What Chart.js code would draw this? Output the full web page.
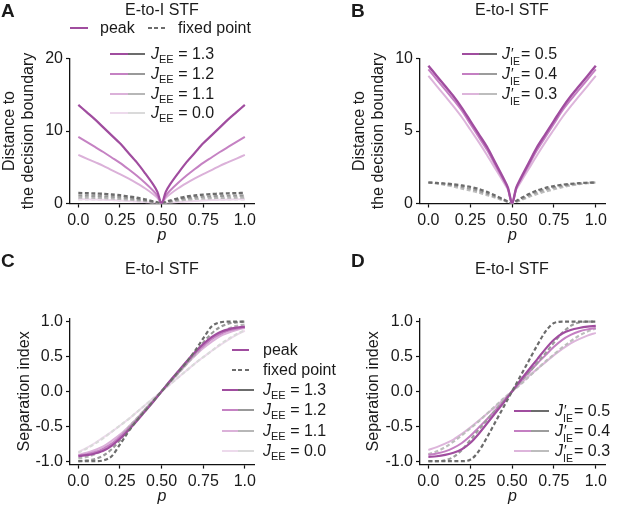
<!DOCTYPE html>
<html><head><meta charset="utf-8">
<script src="https://cdn.jsdelivr.net/npm/chart.js@4.4.1/dist/chart.umd.min.js"></script>
<style>
html,body{margin:0;padding:0;background:#fff;}
#wrap{position:relative;width:617px;height:506px;overflow:hidden;font-family:"Liberation Sans",Arial,sans-serif;color:#1a1a1a;}
canvas{position:absolute;}
.t{position:absolute;font-size:16px;line-height:16px;white-space:nowrap;transform:translateY(-50%);z-index:2;}
.c{transform:translate(-50%,-50%);}
.L{font-weight:bold;font-size:19px;line-height:19px;}
.sw{position:absolute;height:2px;z-index:2;}
.J{font-style:italic;}
.sb{font-size:11px;line-height:0;vertical-align:-4px;}
.ps{display:inline-block;position:relative;width:11px;height:16px;vertical-align:top;}
.ps .pr{position:absolute;left:1px;top:0;font-size:14px;line-height:14px;}
.ps .s2{position:absolute;left:0;top:10px;font-size:10.5px;line-height:11px;}
</style></head>
<body><div id="wrap">
<canvas id="cA" width="310" height="250" style="left:0;top:0"></canvas>
<canvas id="cB" width="307" height="250" style="left:310px;top:0"></canvas>
<canvas id="cC" width="310" height="258" style="left:0;top:250px"></canvas>
<canvas id="cD" width="307" height="258" style="left:310px;top:250px"></canvas>

<div class="t L" style="left:1px;top:10px">A</div>
<div class="t L" style="left:351px;top:10px">B</div>
<div class="t L" style="left:1px;top:260px">C</div>
<div class="t L" style="left:351px;top:260px">D</div>
<div class="t c" style="left:162px;top:10px">E-to-I STF</div>
<div class="t c" style="left:512px;top:10px">E-to-I STF</div>
<div class="t c" style="left:162px;top:269px">E-to-I STF</div>
<div class="t c" style="left:512px;top:269px">E-to-I STF</div>

<div id="legends"></div>
</div>
<script>
// ---------- data ----------
// p grid for the V-shaped distance plots (A, B), with extra samples near the vertex
const pValuesV = [0,0.05,0.1,0.15,0.2,0.25,0.3,0.35,0.4,0.45,0.475,0.5,0.525,0.55,0.6,0.65,0.7,0.75,0.8,0.85,0.9,0.95,1];
// p grid for the separation-index plots (C, D)
const pValuesS = [0,0.05,0.1,0.15,0.2,0.25,0.3,0.35,0.4,0.45,0.5,0.55,0.6,0.65,0.7,0.75,0.8,0.85,0.9,0.95,1];
const xTickValues = [0,0.25,0.5,0.75,1];
const xTickLabels = ['0.0','0.25','0.50','0.75','1.0'];
const aTickValues = [0,10,20];
const aTickLabels = ['0','10','20'];
const bTickValues = [0,5,10];
const bTickLabels = ['0','5','10'];
const sTickValues = [-1,-0.5,0,0.5,1];
const sTickLabels = ['-1.0','-0.5','0.0','0.5','1.0'];

const legendJEE = ['1.3','1.2','1.1','0.0'];
const legendJIE = ['0.5','0.4','0.3'];

// Panel A: distance to decision boundary, J_EE series (on pValuesV)
const aPeak13 = [13.6,12.6,11.6,10.5,9.4,8.3,7.0,5.7,4.2,2.6,1.6,0,1.6,2.6,4.2,5.7,7.0,8.3,9.4,10.5,11.6,12.6,13.6];
const aPeak12 = [9.2,8.5,7.8,7.1,6.35,5.6,4.75,3.85,2.85,1.75,1.07,0,1.07,1.75,2.85,3.85,4.75,5.6,6.35,7.1,7.8,8.5,9.2];
const aPeak11 = [6.7,6.2,5.7,5.2,4.6,4.05,3.45,2.8,2.1,1.28,0.78,0,0.78,1.28,2.1,2.8,3.45,4.05,4.6,5.2,5.7,6.2,6.7];
const aPeak00 = [0.6,0.58,0.55,0.51,0.47,0.42,0.36,0.29,0.2,0.1,0.05,0,0.05,0.1,0.2,0.29,0.36,0.42,0.47,0.51,0.55,0.58,0.6];
const aFix13 = [1.45,1.42,1.38,1.33,1.25,1.13,0.98,0.8,0.57,0.3,0.15,0,0.22,0.4,0.72,0.95,1.1,1.22,1.3,1.36,1.4,1.43,1.45];
const aFix12 = [1.1,1.08,1.05,1.0,0.94,0.85,0.74,0.6,0.43,0.23,0.12,0,0.16,0.3,0.54,0.72,0.84,0.93,0.99,1.04,1.07,1.09,1.1];
const aFix11 = [0.82,0.8,0.78,0.74,0.69,0.62,0.54,0.44,0.32,0.17,0.09,0,0.12,0.22,0.4,0.53,0.62,0.69,0.74,0.77,0.8,0.81,0.82];
const aFix00 = [0.58,0.57,0.55,0.52,0.48,0.44,0.38,0.31,0.22,0.12,0.06,0,0.08,0.15,0.28,0.37,0.44,0.49,0.52,0.55,0.56,0.57,0.58];

// Panel B: J'_IE series (on pValuesV)
const bPeak05 = [9.5,8.8,8.1,7.4,6.6,5.7,4.8,3.9,2.8,1.7,1.1,0,1.1,1.7,2.8,3.9,4.8,5.7,6.6,7.4,8.1,8.8,9.5];
const bPeak04 = [9.25,8.55,7.85,7.15,6.4,5.5,4.6,3.7,2.65,1.6,1.05,0,1.05,1.6,2.65,3.7,4.6,5.5,6.4,7.15,7.85,8.55,9.25];
const bPeak03 = [8.8,8.1,7.4,6.7,5.95,5.1,4.25,3.35,2.4,1.45,0.95,0,0.95,1.45,2.4,3.35,4.25,5.1,5.95,6.7,7.4,8.1,8.8];
const bFix05 = [1.45,1.42,1.38,1.33,1.25,1.15,1.0,0.8,0.55,0.28,0.14,0,0.18,0.35,0.65,0.9,1.08,1.2,1.3,1.36,1.4,1.43,1.45];
const bFix04 = [1.45,1.4,1.33,1.25,1.15,1.02,0.87,0.68,0.47,0.24,0.12,0,0.14,0.28,0.55,0.78,0.96,1.1,1.22,1.31,1.38,1.42,1.45];
const bFix03 = [1.45,1.38,1.28,1.16,1.03,0.9,0.75,0.58,0.4,0.2,0.1,0,0.11,0.22,0.45,0.65,0.83,0.98,1.12,1.24,1.33,1.4,1.45];

// Panel C: separation index, J_EE series (on pValuesS)
const cPeak13 = [-0.93,-0.915,-0.89,-0.85,-0.78,-0.68,-0.56,-0.43,-0.29,-0.15,0,0.15,0.29,0.43,0.56,0.68,0.78,0.85,0.89,0.915,0.93];
const cPeak12 = [-0.92,-0.9,-0.87,-0.82,-0.75,-0.65,-0.54,-0.41,-0.28,-0.14,0,0.14,0.28,0.41,0.54,0.65,0.75,0.82,0.87,0.9,0.92];
const cPeak11 = [-0.91,-0.88,-0.84,-0.79,-0.71,-0.62,-0.51,-0.39,-0.26,-0.13,0,0.13,0.26,0.39,0.51,0.62,0.71,0.79,0.84,0.88,0.91];
const cPeak00 = [-0.87,-0.81,-0.74,-0.66,-0.58,-0.49,-0.4,-0.3,-0.2,-0.1,0,0.1,0.2,0.3,0.4,0.49,0.58,0.66,0.74,0.81,0.87];
const cFix13 = [-1,-1,-1,-0.99,-0.93,-0.76,-0.58,-0.42,-0.28,-0.14,0,0.14,0.28,0.42,0.58,0.76,0.93,0.99,1,1,1];
const cFix12 = [-1,-0.99,-0.97,-0.92,-0.83,-0.7,-0.55,-0.41,-0.27,-0.14,0,0.14,0.27,0.41,0.55,0.7,0.83,0.92,0.97,0.99,1];
const cFix11 = [-0.96,-0.94,-0.9,-0.84,-0.76,-0.65,-0.52,-0.39,-0.26,-0.13,0,0.13,0.26,0.39,0.52,0.65,0.76,0.84,0.9,0.94,0.96];
const cFix00 = [-0.88,-0.82,-0.75,-0.67,-0.58,-0.49,-0.4,-0.3,-0.2,-0.1,0,0.1,0.2,0.3,0.4,0.49,0.58,0.67,0.75,0.82,0.88];

// Panel D: separation index, J'_IE series (on pValuesS)
const dPeak05 = [-0.94,-0.93,-0.91,-0.88,-0.83,-0.74,-0.61,-0.46,-0.31,-0.16,0,0.16,0.31,0.46,0.61,0.74,0.83,0.88,0.91,0.93,0.94];
const dPeak04 = [-0.91,-0.89,-0.86,-0.81,-0.74,-0.64,-0.52,-0.4,-0.27,-0.14,0,0.14,0.27,0.4,0.52,0.64,0.74,0.81,0.86,0.89,0.91];
const dPeak03 = [-0.84,-0.8,-0.75,-0.69,-0.61,-0.52,-0.42,-0.32,-0.22,-0.11,0,0.11,0.22,0.32,0.42,0.52,0.61,0.69,0.75,0.8,0.84];
const dFix05 = [-1,-1,-1,-1,-1,-0.98,-0.86,-0.66,-0.44,-0.22,0,0.22,0.44,0.66,0.86,0.98,1,1,1,1,1];
const dFix04 = [-1,-1,-0.99,-0.94,-0.84,-0.7,-0.55,-0.41,-0.27,-0.14,0,0.14,0.27,0.41,0.55,0.7,0.84,0.94,0.99,1,1];
const dFix03 = [-0.9,-0.86,-0.8,-0.72,-0.63,-0.53,-0.43,-0.32,-0.21,-0.1,0,0.1,0.21,0.32,0.43,0.53,0.63,0.72,0.8,0.86,0.9];

// ---------- styling ----------
const FONT = '"Liberation Sans", Arial, sans-serif';
const P = ['#a04d9f','#c582c3','#dbb1d9','#eddaec'];
const G = ['#6c6c6c','#999999','#b7b7b7','#dadada'];
const PB = ['#a04d9f','#c47fc2','#ddb5db'];
const GB = ['#6c6c6c','#9c9c9c','#bdbdbd'];

function pts(xs, arr){ return xs.map((p,i)=>({x:p,y:arr[i]})); }

function makeDatasets(list, xs, smooth){
  const n = list.length;
  return list.map((d,i)=>({
    data: pts(xs, d.v), borderColor: d.c, borderWidth: d.w || 2,
    borderDash: d.dash ? [4,2.5] : [], pointRadius: 0, fill: false,
    tension: smooth ? 0 : 0.3, cubicInterpolationMode: smooth ? 'monotone' : 'default',
    order: n - i
  }));
}

function xScale(H){
  return {
    type:'linear', min:-0.05, max:1.055,
    afterBuildTicks: s => { s.ticks = xTickValues.map(v=>({value:v})); },
    afterFit: s => { s.height = H; },
    ticks:{callback:(v,i)=>xTickLabels[i], font:{family:FONT,size:16}, color:'#1a1a1a', padding:3, maxRotation:0, autoSkip:false},
    grid:{drawOnChartArea:false, drawTicks:true, tickLength:4, tickColor:'#111', tickWidth:1.2},
    border:{display:true, color:'#111', width:1.3},
    title:{display:true, text:'p', font:{family:FONT,size:16,style:'italic'}, color:'#1a1a1a', padding:0}
  };
}
function yScale(min,max,tv,tl,title,W){
  return {
    type:'linear', min:min, max:max,
    afterBuildTicks: s => { s.ticks = tv.map(v=>({value:v})); },
    afterFit: s => { s.width = W; },
    ticks:{callback:(v,i)=>tl[i], font:{family:FONT,size:16}, color:'#1a1a1a', padding:3, autoSkip:false},
    grid:{drawOnChartArea:false, drawTicks:true, tickLength:4, tickColor:'#111', tickWidth:1.2},
    border:{display:true, color:'#111', width:1.3},
    title:{display:true, text:title, font:{family:FONT,size:16,lineHeight:1.2}, color:'#1a1a1a', padding:0}
  };
}
function makeChart(id, datasets, xs, smooth, xsc, ysc, pad){
  new Chart(document.getElementById(id), {
    type:'line',
    data:{datasets: makeDatasets(datasets, xs, smooth)},
    options:{
      responsive:false, animation:false, devicePixelRatio: 1,
      layout:{padding:pad},
      plugins:{legend:{display:false}, tooltip:{enabled:false}},
      scales:{x:xsc, y:ysc}
    }
  });
}

// Panel A
makeChart('cA', [
  {v:aFix00,c:G[3],dash:true,w:2.2},{v:aPeak00,c:P[3]},
  {v:aFix11,c:G[2],dash:true,w:2.2},{v:aPeak11,c:P[2]},
  {v:aFix12,c:G[1],dash:true,w:2.2},{v:aPeak12,c:P[1]},
  {v:aFix13,c:G[0],dash:true,w:2.4},{v:aPeak13,c:P[0],w:2.2}
], pValuesV, false, xScale(42), yScale(0,20,aTickValues,aTickLabels,['Distance to','the decision boundary'],70),
  {left:0,right:56,top:58.5,bottom:4.5});

// Panel B
makeChart('cB', [
  {v:bFix03,c:GB[2],dash:true,w:2.2},{v:bFix04,c:GB[1],dash:true,w:2.2},{v:bFix05,c:GB[0],dash:true,w:2.2},
  {v:bPeak03,c:PB[2]},{v:bPeak04,c:PB[1]},{v:bPeak05,c:PB[0],w:2.4}
], pValuesV, false, xScale(42), yScale(0,10,bTickValues,bTickLabels,['Distance to','the decision boundary'],70),
  {left:40,right:12,top:58.5,bottom:4.5});

// Panel C
makeChart('cC', [
  {v:cPeak00,c:P[3]},{v:cFix00,c:G[3],dash:true,w:2.2},
  {v:cPeak11,c:P[2]},{v:cFix11,c:G[2],dash:true,w:2.2},
  {v:cPeak12,c:P[1]},{v:cFix12,c:G[1],dash:true,w:2.2},
  {v:cPeak13,c:P[0],w:2.2},{v:cFix13,c:G[0],dash:true,w:2.2}
], pValuesS, true, xScale(42), yScale(-1.05,1.05,sTickValues,sTickLabels,'Separation index',55),
  {left:15,right:56,top:68.2,bottom:1.4});

// Panel D
makeChart('cD', [
  {v:dPeak03,c:PB[2]},{v:dFix03,c:GB[2],dash:true,w:2.2},
  {v:dPeak04,c:PB[1]},{v:dFix04,c:GB[1],dash:true,w:2.2},
  {v:dPeak05,c:PB[0],w:2.2},{v:dFix05,c:GB[0],dash:true,w:2.2}
], pValuesS, true, xScale(42), yScale(-1.05,1.05,sTickValues,sTickLabels,'Separation index',56),
  {left:54,right:12,top:68.2,bottom:1.4});

// ---------- legends (HTML) ----------
const leg = document.getElementById('legends');
function sw(x1,x2,y,color,dash){
  const d=document.createElement('div'); d.className='sw';
  d.style.left=x1+'px'; d.style.width=(x2-x1)+'px'; d.style.top=(y-1)+'px';
  d.style.background = dash ? 'repeating-linear-gradient(to right,'+color+' 0 4px,transparent 4px 6.5px)' : color;
  leg.appendChild(d);
}
function txt(x,y,html){
  const d=document.createElement('div'); d.className='t';
  d.style.left=x+'px'; d.style.top=y+'px'; d.innerHTML=html; leg.appendChild(d);
}
const jee = v => '<span class="J">J</span><span class="sb">EE</span> = '+v;
const jie = v => '<span class="J">J</span><span class="ps"><span class="pr">\u2032</span><span class="s2">IE</span></span>= '+v;

// A
sw(70,88,28,P[0]); txt(100,28,'peak');
sw(148,167,28,G[0],true); txt(178,28,'fixed point');
[54,74,94,113].forEach((y,i)=>{ sw(110,128,y,P[i]); sw(128,145,y,G[i]); txt(151,y,jee(legendJEE[i])); });
// B
[54,74,94].forEach((y,i)=>{ sw(462,479,y,PB[i]); sw(479,497,y,GB[i]); txt(502,y,jie(legendJIE[i])); });
// C
sw(232,249,350,P[0]); txt(263,350,'peak');
sw(232,249,370,G[0],true); txt(263,370,'fixed point');
[390,410,431,451].forEach((y,i)=>{ sw(222,238,y,P[i]); sw(238,254,y,G[i]); txt(263,y,jee(legendJEE[i])); });
// D
[411,431,451].forEach((y,i)=>{ sw(514,531,y,PB[i]); sw(531,549,y,GB[i]); txt(555,y,jie(legendJIE[i])); });
</script>
</body></html>
